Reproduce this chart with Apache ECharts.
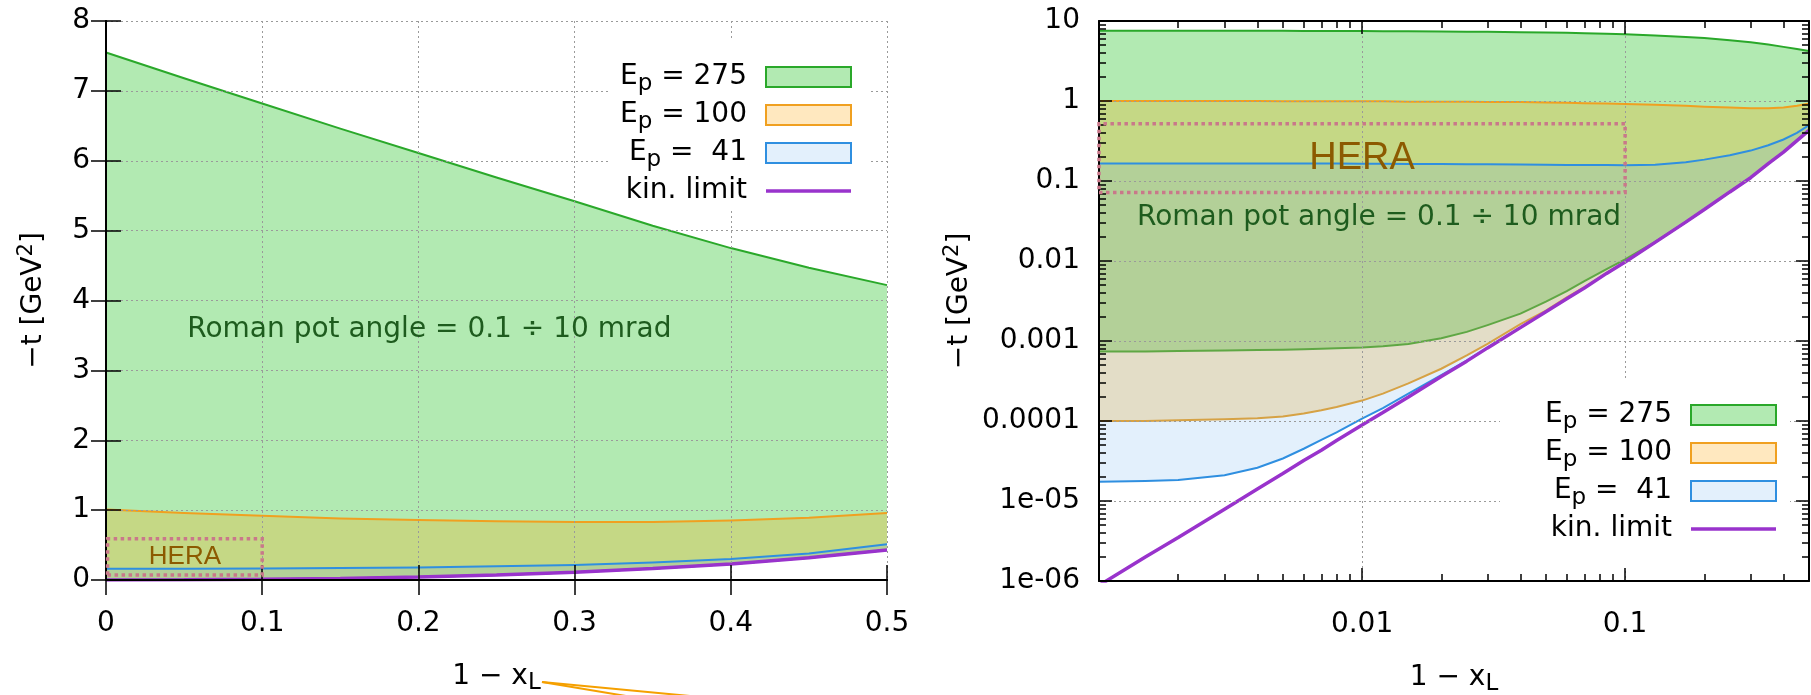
<!DOCTYPE html>
<html><head><meta charset="utf-8">
<script src="https://cdn.jsdelivr.net/npm/echarts@6/dist/echarts.min.js"></script>
<style>html,body{margin:0;padding:0;background:#fff}#c{width:1811px;height:695px}</style>
</head><body><div id="c"></div>
<script>
// ---------------- data: left panel (linear axes) ----------------
const linX     = [0, 0.05, 0.1, 0.15, 0.2, 0.25, 0.3, 0.35, 0.4, 0.45, 0.5];
const linUp275 = [7.55, 7.18, 6.82, 6.46, 6.11, 5.76, 5.42, 5.07, 4.75, 4.47, 4.22];
const linUp100 = [1.01, 0.96, 0.92, 0.88, 0.86, 0.84, 0.83, 0.83, 0.85, 0.89, 0.96];
const linUp41  = [0.16, 0.16, 0.165, 0.17, 0.18, 0.195, 0.215, 0.25, 0.3, 0.38, 0.51];
const linKin   = [0, 0.0024, 0.0097, 0.023, 0.044, 0.073, 0.11, 0.165, 0.23, 0.32, 0.43];

// ---------------- data: right panel (log axes) ----------------
const logX      = [0.001, 0.0015, 0.002, 0.003, 0.004, 0.005, 0.006, 0.007, 0.008, 0.01, 0.012, 0.015, 0.02, 0.025, 0.03, 0.04, 0.05, 0.06, 0.07, 0.085, 0.1, 0.13, 0.17, 0.2, 0.25, 0.3, 0.35, 0.4, 0.45, 0.5];
const logUp275  = [7.55, 7.55, 7.55, 7.54, 7.53, 7.53, 7.52, 7.51, 7.5, 7.48, 7.46, 7.44, 7.4, 7.36, 7.33, 7.26, 7.18, 7.11, 7.04, 6.94, 6.82, 6.6, 6.32, 6.11, 5.76, 5.42, 5.07, 4.75, 4.47, 4.22];
const logLow275 = [0.00074, 0.00074, 0.00075, 0.00076, 0.00077, 0.00078, 0.00079, 0.0008, 0.00081, 0.00083, 0.00086, 0.00092, 0.00108, 0.0013, 0.00158, 0.0022, 0.0031, 0.0042, 0.0056, 0.0079, 0.0105, 0.0173, 0.0306, 0.044, 0.073, 0.11, 0.165, 0.23, 0.32, 0.43];
const logUp100  = [1.0, 1.0, 1.0, 1.0, 1.0, 0.99, 0.99, 0.99, 0.99, 0.99, 0.99, 0.98, 0.98, 0.98, 0.97, 0.97, 0.96, 0.95, 0.94, 0.93, 0.92, 0.9, 0.87, 0.85, 0.83, 0.81, 0.81, 0.83, 0.87, 0.93];
const logLow100 = [1.0e-4, 1.0e-4, 1.02e-4, 1.05e-4, 1.08e-4, 1.14e-4, 1.24e-4, 1.36e-4, 1.5e-4, 1.8e-4, 2.2e-4, 2.95e-4, 4.5e-4, 6.6e-4, 9.2e-4, 0.00162, 0.0024, 0.0035, 0.0047, 0.0071, 0.0097, 0.0171, 0.0306, 0.044, 0.073, 0.11, 0.165, 0.23, 0.32, 0.43];
const logUp41   = [0.166, 0.166, 0.166, 0.166, 0.165, 0.165, 0.165, 0.165, 0.165, 0.164, 0.164, 0.163, 0.163, 0.162, 0.162, 0.161, 0.16, 0.159, 0.158, 0.158, 0.157, 0.16, 0.172, 0.185, 0.21, 0.24, 0.28, 0.33, 0.4, 0.5];
const logLow41  = [1.74e-5, 1.78e-5, 1.83e-5, 2.1e-5, 2.6e-5, 3.4e-5, 4.5e-5, 5.8e-5, 7.2e-5, 1.07e-4, 1.45e-4, 2.2e-4, 3.75e-4, 5.7e-4, 8.3e-4, 0.00147, 0.00232, 0.00337, 0.0046, 0.007, 0.0097, 0.0171, 0.0306, 0.044, 0.073, 0.11, 0.165, 0.23, 0.32, 0.43];
const logKin    = [8.8e-7, 2.0e-6, 3.5e-6, 7.9e-6, 1.41e-5, 2.2e-5, 3.2e-5, 4.3e-5, 5.7e-5, 8.9e-5, 1.28e-4, 2.0e-4, 3.6e-4, 5.6e-4, 8.2e-4, 0.00147, 0.00232, 0.00337, 0.0046, 0.007, 0.0097, 0.0171, 0.0306, 0.044, 0.073, 0.11, 0.165, 0.23, 0.32, 0.43];

// ---------------- ticks / labels ----------------
const xLogTicks   = [0.01, 0.1];
const xLogMinor   = [0.002, 0.003, 0.004, 0.005, 0.006, 0.007, 0.008, 0.009, 0.02, 0.03, 0.04, 0.05, 0.06, 0.07, 0.08, 0.09, 0.2, 0.3, 0.4];
const yLogTicks   = [1e-6, 1e-5, 1e-4, 0.001, 0.01, 0.1, 1, 10];
const yLogLabels  = ['1e-06', '1e-05', '0.0001', '0.001', '0.01', '0.1', '1', '10'];
const minorMult   = [2, 3, 4, 5, 6, 7, 8, 9];
const yLogMinor   = [];
yLogTicks.slice(0, -1).forEach(d => minorMult.forEach(m => yLogMinor.push(+(d * m).toPrecision(3))));

// ---------------- annotations ----------------
const heraX    = [0.001, 0.1];
const heraTLin = [0.07, 0.59];
const heraTLog = [0.072, 0.52];
const romanPotLin = [0.207, 3.58];
const romanPotLog = [0.0116, 0.0345];
const romanPotText = 'Roman pot angle = 0.1 ÷ 10 mrad';
const legendText = {
  '275': 'E{s|p} = 275', '100': 'E{s|p} = 100', '41': 'E{s|p} =  41', 'kin': 'kin. limit'
};

const FONT = "'DejaVu Sans',Verdana,sans-serif";
const C = {
  green: '#2aa82a', orange: '#f0a020', blue: '#2f8fe0', purple: '#9933cc',
  fillG: 'rgba(0,185,0,0.30)', fillO: 'rgba(255,165,0,0.25)', fillB: 'rgba(100,170,240,0.18)'
};

function band(name, xs, up, lo, xi, yi, fill, stroke) {
  return {
    type: 'custom', name: name, xAxisIndex: xi, yAxisIndex: yi, z: 2,
    data: xs.map((x, i) => [x, up[i], lo[i]]),
    encode: { x: 0, y: [1, 2] },
    renderItem: function (params, api) {
      if (params.dataIndex !== 0) return null;
      const top = xs.map((x, i) => api.coord([x, up[i]]));
      const bot = xs.map((x, i) => api.coord([x, lo[i]]));
      return {
        type: 'group', children: [
          { type: 'polygon', shape: { points: top.concat(bot.slice().reverse()) }, style: { fill: fill, stroke: null } },
          { type: 'polyline', shape: { points: top }, style: { stroke: stroke, lineWidth: 2, fill: null } },
          { type: 'polyline', shape: { points: bot }, style: { stroke: stroke, lineWidth: 2, fill: null } }
        ]
      };
    }
  };
}

const FS = 28;
const subRich = { s: { fontFamily: FONT, fontSize: 23, lineHeight: 21, verticalAlign: 'bottom', color: '#000' } };
const supRich = { u: { fontFamily: FONT, fontSize: 21, lineHeight: 21, verticalAlign: 'top', color: '#000' } };
const labelFont = { fontFamily: FONT, fontSize: FS, color: '#000' };
const axLine = { show: true, lineStyle: { color: '#000', width: 2 } };
function tick(len, custom) {
  const t = { show: true, inside: true, length: len, lineStyle: { color: '#000', width: 1.5 } };
  if (custom) t.customValues = custom;
  return t;
}
const dotted = { show: true, lineStyle: { color: '#9a9a9a', width: 1, type: [2, 3] } };
const xName = {
  name: '1 − x{s|L}', nameLocation: 'middle', nameGap: 79,
  nameTextStyle: Object.assign({ lineHeight: 36, rich: subRich }, labelFont)
};
function yName(gap) {
  return {
    name: '−t [GeV{u|2}]', nameLocation: 'middle', nameGap: gap, nameRotate: 90,
    nameTextStyle: Object.assign({ lineHeight: 36, rich: supRich }, labelFont)
  };
}
function logFmt(v) {
  for (let i = 0; i < yLogTicks.length; i++) {
    if (Math.abs(Math.log10(v) - Math.log10(yLogTicks[i])) < 0.01) return yLogLabels[i];
  }
  return '';
}
function legendData(prefix) {
  return [
    { name: prefix + '275', icon: 'rect', itemStyle: { color: C.fillG, borderColor: C.green, borderWidth: 2 } },
    { name: prefix + '100', icon: 'rect', itemStyle: { color: C.fillO, borderColor: C.orange, borderWidth: 2 } },
    { name: prefix + '41', icon: 'rect', itemStyle: { color: C.fillB, borderColor: C.blue, borderWidth: 2 } },
    { name: prefix + 'kin', icon: 'path://M0,0 L85,0 L85,3.5 L0,3.5 Z', itemStyle: { color: C.purple, borderWidth: 0 } }
  ];
}
function legend(prefix, right, top, padding) {
  return {
    orient: 'vertical', align: 'right', right: right, top: top, padding: padding,
    backgroundColor: '#fff', itemWidth: 85, itemHeight: 20, itemGap: 0, z: 8,
    selectedMode: false,
    textStyle: Object.assign({ lineHeight: 38, padding: [0, 14, 0, 0], rich: subRich }, labelFont),
    formatter: n => legendText[n.slice(1)],
    data: legendData(prefix)
  };
}
function heraArea(t, fs) {
  return {
    silent: true, z: 6,
    itemStyle: { color: 'rgba(0,0,0,0)', borderColor: '#c9788a', borderWidth: 3.5, borderType: [3.5, 3.5] },
    label: { show: true, position: 'inside', color: '#8c5a00', fontFamily: "'Liberation Sans',Arial,sans-serif", fontSize: fs },
    data: [[{ name: 'HERA', coord: [heraX[0], t[0]] }, { coord: [heraX[1], t[1]] }]]
  };
}
function potLabel(pos) {
  return {
    silent: true, symbol: 'rect', symbolSize: 1, itemStyle: { color: 'rgba(0,0,0,0)' },
    label: { show: true, position: 'inside', formatter: romanPotText, color: '#1e5c1e', fontFamily: FONT, fontSize: FS },
    data: [{ coord: pos }]
  };
}

const chart = echarts.init(document.getElementById('c'), null, { renderer: 'canvas' });
chart.setOption({
  animation: false,
  backgroundColor: '#fff',
  grid: [
    { left: 106, top: 21, width: 781, height: 559, outerBoundsMode: 'none', containLabel: false },
    { left: 1099, top: 21, width: 710, height: 560, outerBoundsMode: 'none', containLabel: false }
  ],
  legend: [
    legend('L', 943, 40, [18, 16, 0, 10]),
    legend('R', 21, 380, [16, 13, 20, 45])
  ],
  xAxis: [
    Object.assign({ gridIndex: 0, type: 'value', min: 0, max: 0.5, interval: 0.1, position: 'bottom', z: 5,
      axisLine: axLine, axisTick: tick(15), axisLabel: Object.assign({ margin: 30 }, labelFont), splitLine: dotted }, xName),
    { gridIndex: 0, type: 'value', min: 0, max: 0.5, interval: 0.1, position: 'top', z: 5,
      axisLine: axLine, axisTick: tick(15), axisLabel: { show: false }, splitLine: { show: false } },
    Object.assign({ gridIndex: 1, type: 'log', logBase: 10, min: 0.001, max: 0.5, position: 'bottom', z: 5,
      axisLine: axLine, axisTick: tick(13, xLogTicks),
      axisLabel: Object.assign({ margin: 30, customValues: xLogTicks }, labelFont), splitLine: dotted }, xName),
    { gridIndex: 1, type: 'log', logBase: 10, min: 0.001, max: 0.5, position: 'bottom', z: 5,
      axisLine: { show: false }, axisTick: tick(7, xLogMinor), axisLabel: { show: false }, splitLine: { show: false } },
    { gridIndex: 1, type: 'log', logBase: 10, min: 0.001, max: 0.5, position: 'top', z: 5,
      axisLine: axLine, axisTick: tick(13, xLogTicks), axisLabel: { show: false }, splitLine: { show: false } },
    { gridIndex: 1, type: 'log', logBase: 10, min: 0.001, max: 0.5, position: 'top', z: 5,
      axisLine: { show: false }, axisTick: tick(7, xLogMinor), axisLabel: { show: false }, splitLine: { show: false } }
  ],
  yAxis: [
    Object.assign({ gridIndex: 0, type: 'value', min: 0, max: 8, interval: 1, position: 'left', z: 5,
      axisLine: axLine, axisTick: tick(15), axisLabel: Object.assign({ margin: 16 }, labelFont), splitLine: dotted }, yName(54)),
    { gridIndex: 0, type: 'value', min: 0, max: 8, interval: 1, position: 'right', z: 5,
      axisLine: axLine, axisTick: tick(15), axisLabel: { show: false }, splitLine: { show: false } },
    Object.assign({ gridIndex: 1, type: 'log', logBase: 10, min: 1e-6, max: 10, position: 'left', z: 5,
      axisLine: axLine, axisTick: tick(13, yLogTicks),
      axisLabel: Object.assign({ margin: 19, customValues: yLogTicks, formatter: logFmt }, labelFont), splitLine: dotted }, yName(120)),
    { gridIndex: 1, type: 'log', logBase: 10, min: 1e-6, max: 10, position: 'left', z: 5,
      axisLine: { show: false }, axisTick: tick(7, yLogMinor), axisLabel: { show: false }, splitLine: { show: false } },
    { gridIndex: 1, type: 'log', logBase: 10, min: 1e-6, max: 10, position: 'right', z: 5,
      axisLine: axLine, axisTick: tick(13, yLogTicks), axisLabel: { show: false }, splitLine: { show: false } },
    { gridIndex: 1, type: 'log', logBase: 10, min: 1e-6, max: 10, position: 'right', z: 5,
      axisLine: { show: false }, axisTick: tick(7, yLogMinor), axisLabel: { show: false }, splitLine: { show: false } }
  ],
  series: [
    band('L275', linX, linUp275, linKin, 0, 0, C.fillG, C.green),
    band('L100', linX, linUp100, linKin, 0, 0, C.fillO, C.orange),
    band('L41', linX, linUp41, linKin, 0, 0, C.fillB, C.blue),
    {
      type: 'line', name: 'Lkin', xAxisIndex: 0, yAxisIndex: 0, z: 3,
      data: linX.map((x, i) => [x, linKin[i]]), symbol: 'none', clip: true,
      lineStyle: { color: C.purple, width: 3.5 }, itemStyle: { color: C.purple },
      markArea: heraArea(heraTLin, 26),
      markPoint: potLabel(romanPotLin)
    },
    band('R275', logX, logUp275, logLow275, 2, 2, C.fillG, C.green),
    band('R100', logX, logUp100, logLow100, 2, 2, C.fillO, C.orange),
    band('R41', logX, logUp41, logLow41, 2, 2, C.fillB, C.blue),
    {
      type: 'line', name: 'Rkin', xAxisIndex: 2, yAxisIndex: 2, z: 3,
      data: logX.map((x, i) => [x, logKin[i]]), symbol: 'none', clip: true,
      lineStyle: { color: C.purple, width: 3.5 }, itemStyle: { color: C.purple },
      markArea: heraArea(heraTLog, 38),
      markPoint: potLabel(romanPotLog)
    }
  ],
  graphic: [
    { type: 'line', shape: { x1: 542, y1: 682, x2: 690, y2: 696 }, style: { stroke: '#f5a000', lineWidth: 2 } },
    { type: 'line', shape: { x1: 542, y1: 682, x2: 626, y2: 696 }, style: { stroke: '#f5a000', lineWidth: 2 } }
  ]
});
</script>
</body></html>
